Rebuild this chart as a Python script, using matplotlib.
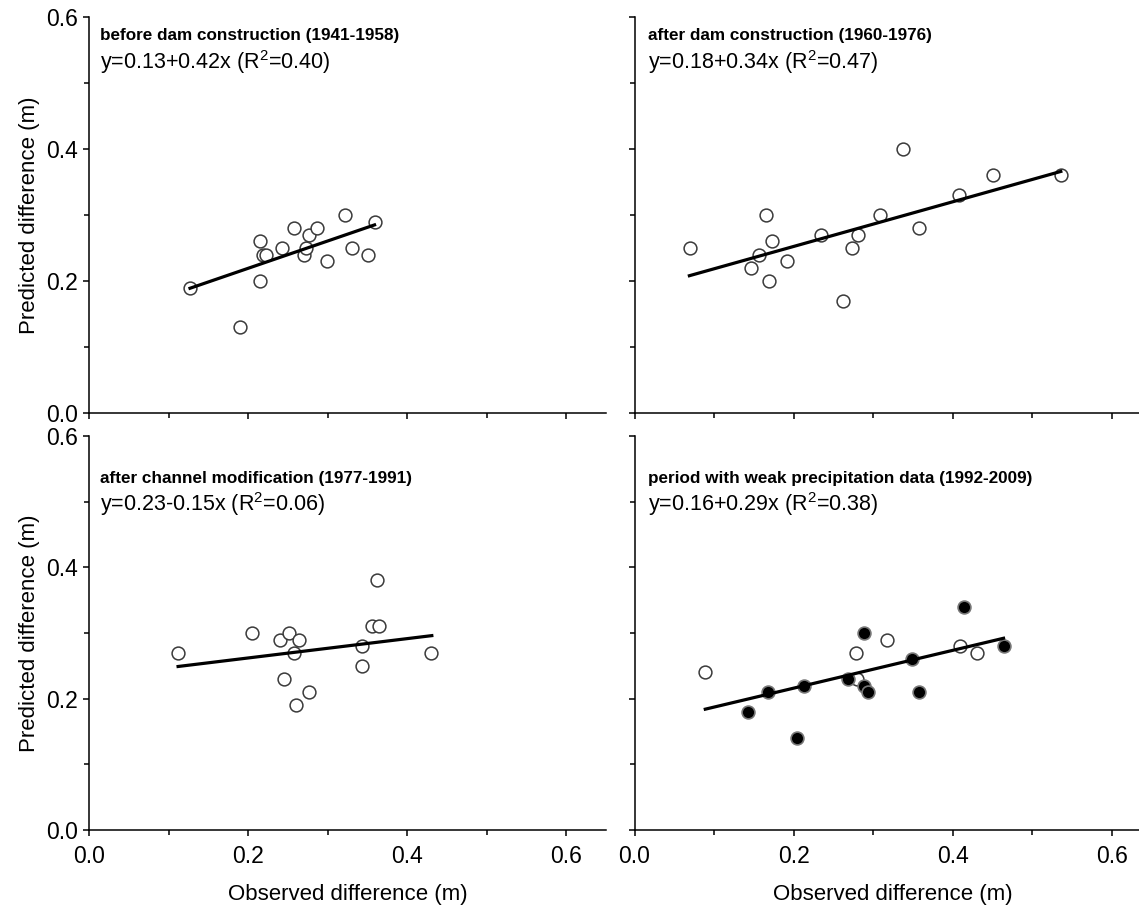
import matplotlib
matplotlib.use("Agg")
import matplotlib.pyplot as plt
from matplotlib.ticker import MultipleLocator, FormatStrFormatter

plt.rcParams["font.family"] = ["Liberation Sans", "DejaVu Sans"]
plt.rcParams["mathtext.fontset"] = "custom"
plt.rcParams["mathtext.rm"] = "Liberation Sans"

# --- data -----------------------------------------------------------------
titles = [
    "before dam construction (1941-1958)",
    "after dam construction (1960-1976)",
    "after channel modification (1977-1991)",
    "period with weak precipitation data (1992-2009)",
]
equations = [
    r"y=0.13+0.42x (R$^\mathregular{2}$=0.40)",
    r"y=0.18+0.34x (R$^\mathregular{2}$=0.47)",
    r"y=0.23-0.15x (R$^\mathregular{2}$=0.06)",
    r"y=0.16+0.29x (R$^\mathregular{2}$=0.38)",
]

obs_a = [0.127, 0.190, 0.215, 0.215, 0.219, 0.223, 0.243, 0.258, 0.270,
         0.273, 0.277, 0.287, 0.299, 0.322, 0.331, 0.351, 0.359]
pred_a = [0.19, 0.13, 0.26, 0.20, 0.24, 0.24, 0.25, 0.28, 0.24,
          0.25, 0.27, 0.28, 0.23, 0.30, 0.25, 0.24, 0.29]
fit_x_a = [0.127, 0.359]
fit_y_a = [0.189, 0.285]

obs_b = [0.070, 0.147, 0.157, 0.165, 0.169, 0.173, 0.192, 0.234, 0.262,
         0.274, 0.281, 0.309, 0.338, 0.358, 0.408, 0.451, 0.536]
pred_b = [0.25, 0.22, 0.24, 0.30, 0.20, 0.26, 0.23, 0.27, 0.17,
          0.25, 0.27, 0.30, 0.40, 0.28, 0.33, 0.36, 0.36]
fit_x_b = [0.069, 0.536]
fit_y_b = [0.208, 0.366]

obs_c = [0.112, 0.205, 0.240, 0.245, 0.251, 0.258, 0.260, 0.264, 0.277,
         0.343, 0.343, 0.356, 0.362, 0.365, 0.430]
pred_c = [0.27, 0.30, 0.29, 0.23, 0.30, 0.27, 0.19, 0.29, 0.21,
          0.28, 0.25, 0.31, 0.38, 0.31, 0.27]
fit_x_c = [0.112, 0.431]
fit_y_c = [0.249, 0.296]

# last panel: open = one group, filled = the other
obs_d_open = [0.089, 0.279, 0.280, 0.318, 0.409, 0.430]
pred_d_open = [0.24, 0.27, 0.23, 0.29, 0.28, 0.27]
obs_d_fill = [0.143, 0.168, 0.204, 0.213, 0.269, 0.289, 0.289, 0.294,
              0.349, 0.358, 0.414, 0.465]
pred_d_fill = [0.18, 0.21, 0.14, 0.22, 0.23, 0.30, 0.22, 0.21,
               0.26, 0.21, 0.34, 0.28]
fit_x_d = [0.089, 0.464]
fit_y_d = [0.184, 0.292]

# --- figure ----------------------------------------------------------------
W, H = 1139, 907
fig = plt.figure(figsize=(W / 100, H / 100), dpi=100)

def px_axes(x0, x1, ytop, ybot):
    return fig.add_axes([x0 / W, 1 - ybot / H, (x1 - x0) / W, (ybot - ytop) / H])

ax_a = px_axes(89, 606, 17, 413)
ax_b = px_axes(634.5, 1151.5, 17, 413)
ax_c = px_axes(89, 606, 436, 830)
ax_d = px_axes(634.5, 1151.5, 436, 830)

open_kw = dict(s=85, facecolors="white", edgecolors="#3a3a3a", linewidths=1.1, zorder=3)
fill_kw = dict(s=85, facecolors="black", edgecolors="#777777", linewidths=1.2, zorder=3)

ax_a.scatter(obs_a, pred_a, **open_kw)
ax_a.plot(fit_x_a, fit_y_a, color="black", lw=2.3, zorder=4)
ax_b.scatter(obs_b, pred_b, **open_kw)
ax_b.plot(fit_x_b, fit_y_b, color="black", lw=2.3, zorder=4)
ax_c.scatter(obs_c, pred_c, **open_kw)
ax_c.plot(fit_x_c, fit_y_c, color="black", lw=2.3, zorder=4)
ax_d.scatter(obs_d_open, pred_d_open, **open_kw)
ax_d.scatter(obs_d_fill, pred_d_fill, **fill_kw)
ax_d.plot(fit_x_d, fit_y_d, color="black", lw=2.3, zorder=4)

axes = [ax_a, ax_b, ax_c, ax_d]
for i, ax in enumerate(axes):
    ax.set_xlim(0, 0.65)
    ax.set_ylim(0, 0.6)
    for side in ("top", "right"):
        ax.spines[side].set_visible(False)
    for side in ("left", "bottom"):
        ax.spines[side].set_linewidth(1.1)
    ax.xaxis.set_major_locator(MultipleLocator(0.2))
    ax.xaxis.set_minor_locator(MultipleLocator(0.1))
    ax.yaxis.set_major_locator(MultipleLocator(0.2))
    ax.yaxis.set_minor_locator(MultipleLocator(0.1))
    ax.tick_params(which="major", direction="out", length=4, width=1.1,
                   labelsize=16.5)
    ax.tick_params(which="minor", direction="out", length=3.5, width=1.1)
    ax.tick_params(axis="x", which="major", pad=7)
    ax.tick_params(axis="y", which="major", pad=4)
    ax.xaxis.set_major_formatter(FormatStrFormatter("%.1f"))
    ax.yaxis.set_major_formatter(FormatStrFormatter("%.1f"))
    if i < 2:
        ax.tick_params(axis="x", labelbottom=False)
    else:
        ax.set_xlabel("Observed difference (m)", fontsize=16, labelpad=11)
    if i % 2 == 1:
        ax.tick_params(axis="y", labelleft=False)
    else:
        ax.set_ylabel("Predicted difference (m)", fontsize=16, labelpad=4)

    # panel headings, offset in pixels below the top of the axes
    top_off, eq_off = (18, 45) if i < 2 else (42, 68)
    h_px = 396 if i < 2 else 394
    x_off = 11 if i % 2 == 0 else 14
    ax.text(x_off / 517, 1 - top_off / h_px, titles[i], transform=ax.transAxes,
            fontsize=12.3, fontweight="bold", va="center", ha="left")
    ax.text(x_off / 517, 1 - eq_off / h_px, equations[i], transform=ax.transAxes,
            fontsize=15.5, va="center", ha="left")

fig.savefig("out.png", dpi=100)
